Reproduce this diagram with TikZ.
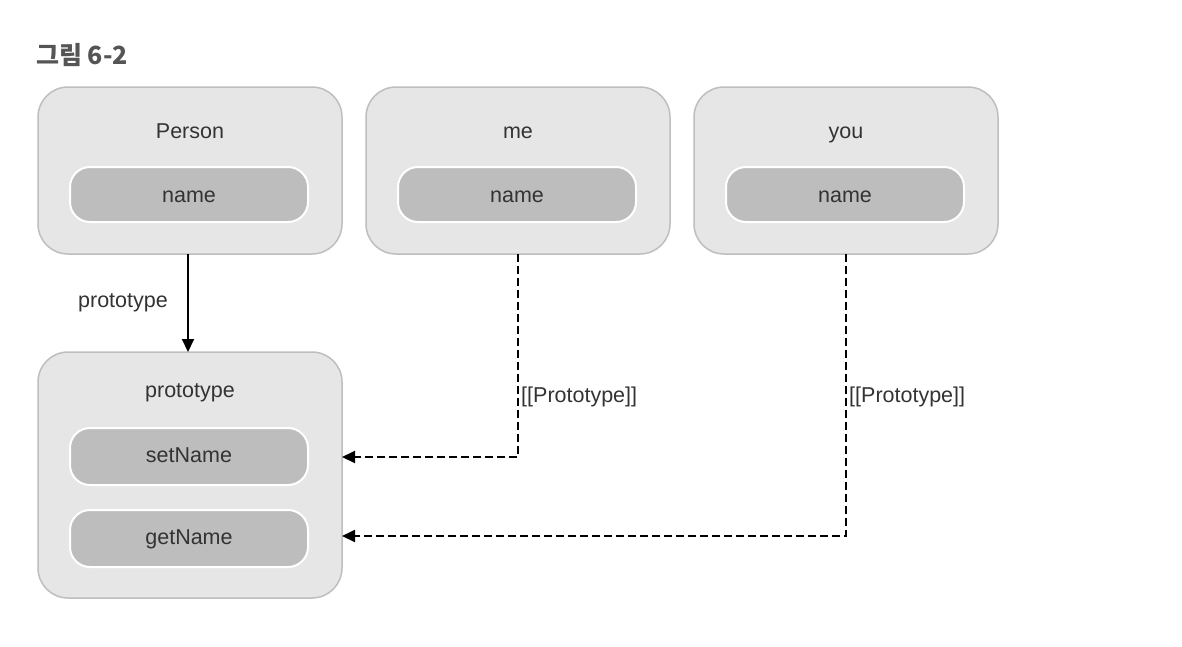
\documentclass[tikz,border=0pt]{standalone}
\usepackage{fontspec}
\setmainfont{Liberation Sans}
\newfontfamily\cjk{Noto Sans CJK KR}
\usetikzlibrary{arrows.meta}
\definecolor{outerfill}{HTML}{E6E6E7}
\definecolor{outerdraw}{HTML}{BEBEBE}
\definecolor{innerfill}{HTML}{BDBDBD}
\definecolor{txt}{HTML}{333333}
\definecolor{titlecol}{HTML}{555555}
\begin{document}
\begin{tikzpicture}[x=1pt,y=-1pt,
  outerbox/.style={draw=outerdraw,fill=outerfill,line width=1.5pt,rounded corners=30pt},
  innerbox/.style={draw=white,fill=innerfill,line width=2pt,rounded corners=20pt},
  lbl/.style={text=txt,font=\fontsize{21.5}{25}\selectfont,inner sep=0pt,anchor=base},
  conn/.style={line width=2pt,-{Triangle[length=13pt,width=12pt]}},
  dconn/.style={conn,dash pattern=on 8pt off 4pt}]
\useasboundingbox (0,0) rectangle (1182,646);
\node[anchor=base west,text=titlecol,inner sep=0pt,font=\cjk\bfseries\fontsize{25}{30}\selectfont] (title) at (36,64) {그림 6-2};
% outer boxes
\draw[outerbox] (38,87) rectangle (342,254);
\draw[outerbox] (366,87) rectangle (670,254);
\draw[outerbox] (694,87) rectangle (998,254);
\draw[outerbox] (38,352) rectangle (342,598);
\node[lbl] (personlbl) at (190,138) {Person};
\node[lbl] (melbl) at (518,138) {me};
\node[lbl] (youlbl) at (846,138) {you};
\node[lbl] (protolbl) at (190,397) {prototype};
% inner boxes
\draw[innerbox] (70,167) rectangle (308,222);
\draw[innerbox] (398,167) rectangle (636,222);
\draw[innerbox] (726,167) rectangle (964,222);
\draw[innerbox] (70,428) rectangle (308,485);
\draw[innerbox] (70,510) rectangle (308,567);
\node[lbl] (pname) at (189,202) {name};
\node[lbl] (mname) at (517,202) {name};
\node[lbl] (yname) at (845,202) {name};
\node[lbl] (setn) at (189,462) {setName};
\node[lbl] (getn) at (189,544) {getName};
% connector anchors
\coordinate (pbot) at (188,254);
\coordinate (ptop) at (188,352);
\coordinate (mbot) at (518,254);
\coordinate (ybot) at (846,254);
\coordinate (sright) at (342,457);
\coordinate (gright) at (342,536);
\draw[conn] (pbot) -- (ptop);
\node[lbl,anchor=base east] (plbl) at (168,307) {prototype};
\draw[dconn] (mbot) |- (sright);
\draw[dconn] (ybot) |- (gright);
\node[lbl,anchor=base west] (mlbl) at (521,402) {[[Prototype]]};
\node[lbl,anchor=base west] (ylbl) at (849,402) {[[Prototype]]};
\end{tikzpicture}
\end{document}
